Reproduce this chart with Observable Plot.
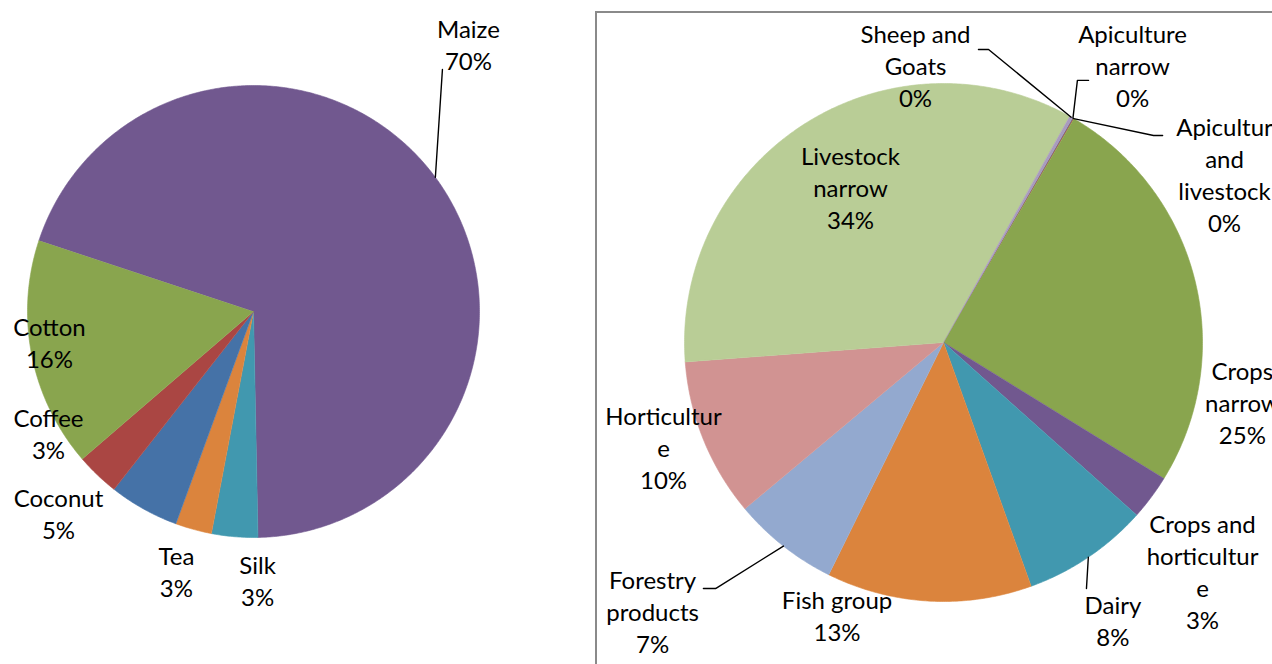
<!DOCTYPE html>
<html><head><meta charset="utf-8">
<script src="https://cdn.jsdelivr.net/npm/d3@7"></script>
<script src="https://cdn.jsdelivr.net/npm/@observablehq/plot@0.6"></script>
<style>
html,body{margin:0;padding:0;background:#fff;}
body{width:1272px;height:664px;overflow:hidden;position:relative;font-family:Lato,sans-serif;}
#left{position:absolute;left:0;top:0;}
#right{position:absolute;left:596px;top:12px;}
#frame{position:absolute;left:595px;top:11px;width:800px;height:800px;border:2px solid #8a8a8a;box-sizing:border-box;pointer-events:none;}
svg{max-width:none !important;overflow:visible;}
</style>
</head><body>
<div id="left"></div>
<div id="frame"></div>
<div id="right"></div>
<script>
// ---- Left pie data ----
const leftNames = ["Maize", "Silk", "Tea", "Coconut", "Coffee", "Cotton"];
const leftValues = [69.6, 3.3, 2.6, 5.0, 3.1, 16.4];
const leftColors = ["#71588F", "#4198AF", "#DB843D", "#4572A7", "#AA4643", "#89A54E"];
const leftStartAngle = 288.3;

// ---- Right pie data ----
const rightNames = ["Apiculture narrow", "Apiculture and livestock", "Crops narrow", "Crops and horticulture", "Dairy", "Fish group", "Forestry products", "Horticulture", "Livestock narrow", "Sheep and Goats"];
const rightValues = [0.05, 0.05, 25.4, 2.8, 7.9, 12.8, 6.6, 9.9, 34.3, 0.2];
const rightColors = ["#4572A7", "#AA4643", "#89A54E", "#71588F", "#4198AF", "#DB843D", "#93A9CF", "#D19392", "#B9CD96", "#A99BBD"];
const rightStartAngle = 29.9;

// wrapped label text as in the original
const leftWrapped = ["Maize", "Silk", "Tea", "Coconut", "Coffee", "Cotton"];
const rightWrapped = ["Apiculture\nnarrow", "Apicultur\nand\nlivestock", "Crops\nnarrow", "Crops and\nhorticultur\ne", "Dairy", "Fish group", "Forestry\nproducts", "Horticultur\ne", "Livestock\nnarrow", "Sheep and\nGoats"];

// ---- Layout (label anchors in radius units, leader bends) ----
const leftLabelPos = [[0.951, 1.175], [0.018, -1.195], [-0.341, -1.157], [-0.863, -0.900], [-0.907, -0.544], [-0.903, -0.144]];
const leftLeaders = {0: [[0.836, 1.071]]};
const rightLabelPos = [[0.730, 1.064], [1.085, 0.643], [1.154, -0.237], [1.0, -0.888], [0.654, -1.077], [-0.411, -1.060], [-1.123, -1.042], [-1.081, -0.411], [-0.359, 0.595], [-0.108, 1.064]];
const rightLeaders = {
  0: [[0.560, 1.012], [0.517, 1.012]],
  1: [[0.846, 0.799], [0.811, 0.799]],
  4: [[0.552, -0.950]],
  6: [[-0.927, -0.950], [-0.880, -0.950]],
  9: [[0.135, 1.131], [0.174, 1.131]]
};

const FONT = 24;
const LINE = 32;

function polar(deg, k) {
  const a = deg * Math.PI / 180;
  return [k * Math.sin(a), k * Math.cos(a)];
}

function buildPie(names, values, colors, start, wrapped, labelPos, leaders) {
  const total = d3.sum(values);
  let a = start;
  const slices = names.map((n, i) => {
    const span = values[i] / total * 360;
    const s = {name: n, color: colors[i], a0: a, a1: a + span, mid: a + span / 2,
      label: wrapped[i] + "\n" + Math.round(values[i] / total * 100) + "%"};
    a += span;
    return s;
  });
  const poly = [];
  for (const s of slices) {
    poly.push({name: s.name, color: s.color, x: 0, y: 0});
    const n = Math.max(2, Math.ceil((s.a1 - s.a0) / 0.5));
    for (let j = 0; j <= n; j++) {
      const [x, y] = polar(s.a0 + (s.a1 - s.a0) * j / n, 1);
      poly.push({name: s.name, color: s.color, x, y});
    }
  }
  const labels = slices.map((s, i) => ({text: s.label, x: labelPos[i][0], y: labelPos[i][1]}));
  const lead = [];
  for (const k of Object.keys(leaders)) {
    const s = slices[+k];
    leaders[k].forEach(p => lead.push({id: s.name, x: p[0], y: p[1]}));
    const [ex, ey] = polar(s.mid, 1);
    lead.push({id: s.name, x: ex, y: ey});
  }
  return {poly, labels, lead};
}

function drawPie(el, pie, w, h, cx, cy, r) {
  const chart = Plot.plot({
    width: w, height: h,
    margin: 0,
    x: {domain: [-cx / r, (w - cx) / r], axis: null},
    y: {domain: [-(h - cy) / r, cy / r], axis: null},
    color: {type: "identity"},
    style: {fontFamily: "Lato, sans-serif", background: "transparent", overflow: "visible"},
    marks: [
      Plot.line(pie.poly, {x: "x", y: "y", z: "name", fill: "color", stroke: "color", strokeWidth: 0.6, curve: "linear"}),
      Plot.line(pie.lead, {x: "x", y: "y", z: "id", stroke: "#000", strokeWidth: 1.4}),
      Plot.text(pie.labels, {x: "x", y: "y", text: "text", fontSize: FONT, lineHeight: LINE / FONT, fill: "#000", textAnchor: "middle", dy: -2})
    ]
  });
  document.getElementById(el).appendChild(chart);
}

const leftPie = buildPie(leftNames, leftValues, leftColors, leftStartAngle, leftWrapped, leftLabelPos, leftLeaders);
drawPie("left", leftPie, 590, 664, 253, 311, 226);

const rightPie = buildPie(rightNames, rightValues, rightColors, rightStartAngle, rightWrapped, rightLabelPos, rightLeaders);
drawPie("right", rightPie, 676, 652, 347, 330, 259);
</script>
</body></html>
